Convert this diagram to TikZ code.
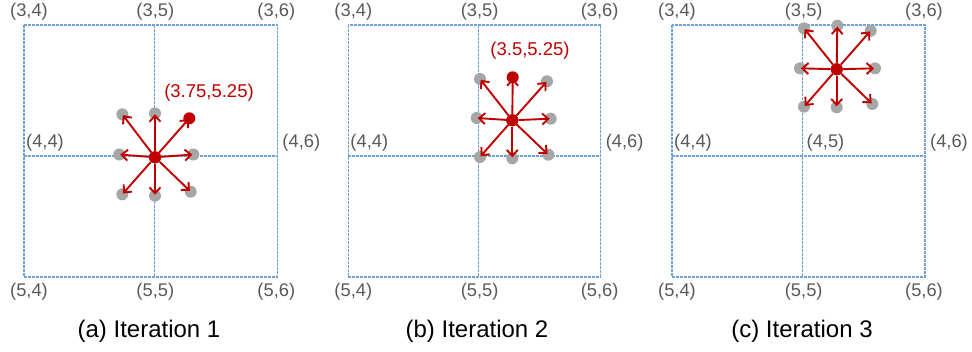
\documentclass[tikz,border=0pt]{standalone}
\usepackage{fontspec}
\setmainfont{Liberation Sans}
\usetikzlibrary{arrows.meta}
\definecolor{gridblue}{RGB}{110,160,218}
\definecolor{dred}{RGB}{192,0,0}
\definecolor{dotgray}{RGB}{166,166,166}
\definecolor{labgray}{RGB}{89,89,89}
\tikzset{
  gridline/.style={gridblue, line width=1.2pt, dash pattern=on 3pt off 1pt},
  coordlabel/.style={text=labgray, font=\fontsize{18.3}{20}\selectfont, inner sep=0pt},
  redlabel/.style={text=dred, font=\fontsize{18.5}{20}\selectfont, inner sep=0pt},
  gdot/.style={circle, fill=dotgray, minimum size=12pt, inner sep=0pt},
  rdot/.style={circle, fill=dred, minimum size=12pt, inner sep=0pt},
  move/.style={dred, line width=1.9pt, -{Straight Barb[length=6pt,width=11pt,line width=1.9pt]}, shorten >=1pt},
  capt/.style={font=\fontsize{24}{28}\selectfont, inner sep=0pt}
}
% #1 prefix, #2 left, #3 mid, #4 right
\newcommand{\gpanel}[4]{%
  \draw[gridline] (#2,25) rectangle (#4,277);
  \draw[gridline] (#3,25) -- (#3,277);
  \draw[gridline] (#2,156) -- (#4,156);
  \node[coordlabel] (#1-l34) at (#2+5,12) {(3,4)};
  \node[coordlabel] (#1-l35) at (#3+1,12) {(3,5)};
  \node[coordlabel] (#1-l36) at (#4-1,12) {(3,6)};
  \node[coordlabel] (#1-l44) at (#2+21,142.5) {(4,4)};
  \node[coordlabel] (#1-l46) at (#4+24,142.5) {(4,6)};
  \node[coordlabel] (#1-l54) at (#2+5,292) {(5,4)};
  \node[coordlabel] (#1-l55) at (#3+1,292) {(5,5)};
  \node[coordlabel] (#1-l56) at (#4-1,292) {(5,6)};
}
\newcommand{\arrowsfrom}[1]{%
  \foreach \k in {1,...,8} {\draw[move] (#1c) -- (#1\k.center);}
  \node[rdot] at (#1c) {};
}
\begin{document}
\begin{tikzpicture}[x=1pt,y=-1pt]
\useasboundingbox (0,0) rectangle (972,351);

% ---------- panel (a)
\gpanel{a}{24}{154.3}{277.3}
\node[gdot] (a1) at (122.3,114.3) {};
\node[gdot] (a2) at (155,113.3) {};
\node[rdot] (a3) at (189.3,118.3) {};
\node[gdot] (a4) at (119.3,154.5) {};
\node[gdot] (a5) at (193.3,154.5) {};
\node[gdot] (a6) at (122.3,194.3) {};
\node[gdot] (a7) at (155,195.7) {};
\node[gdot] (a8) at (190.7,191.7) {};
\node[rdot] (ac) at (155,157.3) {};
\arrowsfrom{a}
\node[redlabel] (a-red) at (209,92.5) {(3.75,5.25)};
\node[capt] (a-cap) at (149,331) {(a) Iteration 1};

% ---------- panel (b)
\gpanel{b}{348.3}{478.7}{600.7}
\node[gdot] (b1) at (480,79) {};
\node[rdot] (b2) at (512.7,77.3) {};
\node[gdot] (b3) at (547,81.3) {};
\node[gdot] (b4) at (476.7,118) {};
\node[gdot] (b5) at (550.7,118.7) {};
\node[gdot] (b6) at (480,157) {};
\node[gdot] (b7) at (512.3,158.3) {};
\node[gdot] (b8) at (548.3,154.7) {};
\node[rdot] (bc) at (512.3,120.3) {};
\arrowsfrom{b}
\node[redlabel] (b-red) at (530,51) {(3.5,5.25)};
\node[capt] (b-cap) at (477,331) {(b) Iteration 2};

% ---------- panel (c)
\gpanel{c}{672}{802.7}{925}
\node[coordlabel] (c-l45) at (825.5,142.5) {(4,5)};
\node[gdot] (c1) at (804,28.3) {};
\node[gdot] (c2) at (837.3,25.7) {};
\node[gdot] (c3) at (870.7,30.7) {};
\node[gdot] (c4) at (800,68.3) {};
\node[gdot] (c5) at (875,68.3) {};
\node[gdot] (c6) at (804,106.7) {};
\node[gdot] (c7) at (836.7,107.3) {};
\node[gdot] (c8) at (872.3,104) {};
\node[rdot] (cc) at (836.7,69.3) {};
\arrowsfrom{c}
\node[capt] (c-cap) at (802,331) {(c) Iteration 3};
\end{tikzpicture}
\end{document}
